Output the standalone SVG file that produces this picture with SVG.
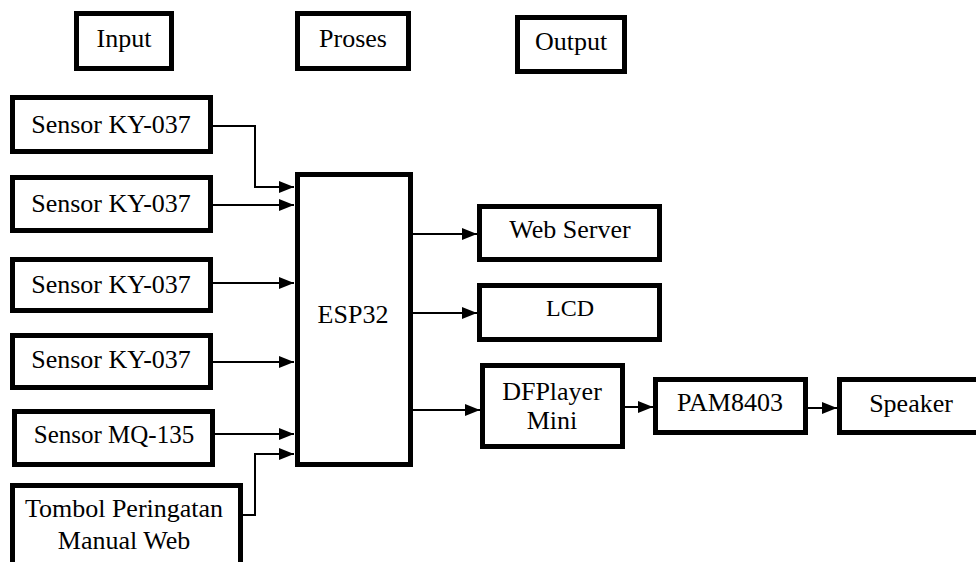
<svg xmlns="http://www.w3.org/2000/svg" width="976" height="562" viewBox="0 0 976 562">
<style>
.box{fill:#fff;stroke:#000;stroke-width:5}
.t{font-size:26px;fill:#000;text-anchor:middle}
.c{fill:none;stroke:#000;stroke-width:2}
</style>
<defs>
<marker id="arr" markerUnits="userSpaceOnUse" markerWidth="15" markerHeight="12" refX="15" refY="6" orient="auto">
<path d="M0,0 L15,6 L0,12 Z" fill="#000"/>
</marker>
</defs>
<rect width="976" height="562" fill="#fff"/>
<g font-family="Liberation Serif, DejaVu Serif, serif">
<g id="input-label"><rect class="box" x="76.5" y="13.5" width="95" height="55"/><text class="t" x="124" y="47">Input</text></g>
<g id="proses-label"><rect class="box" x="297.5" y="13.5" width="111" height="55"/><text class="t" x="353" y="47">Proses</text></g>
<g id="output-label"><rect class="box" x="517.5" y="17.5" width="107" height="54"/><text class="t" x="571" y="50">Output</text></g>
<g id="sensor1"><rect class="box" x="12.5" y="97.5" width="198" height="54"/><text class="t" x="111" y="133">Sensor KY-037</text></g>
<g id="sensor2"><rect class="box" x="12.5" y="177.5" width="198" height="53"/><text class="t" x="111" y="212">Sensor KY-037</text></g>
<g id="sensor3"><rect class="box" x="12.5" y="259.5" width="198" height="51"/><text class="t" x="111" y="293">Sensor KY-037</text></g>
<g id="sensor4"><rect class="box" x="12.5" y="335.5" width="198" height="52"/><text class="t" x="111" y="368">Sensor KY-037</text></g>
<g id="mq135"><rect class="box" x="14.5" y="411.5" width="198" height="53"/><text class="t" x="114" y="443" style="font-size:25px">Sensor MQ-135</text></g>
<g id="tombol"><rect class="box" x="12.5" y="485.5" width="228" height="90"/><text class="t" x="124" y="517">Tombol Peringatan</text><text class="t" x="124" y="549">Manual Web</text></g>
<g id="esp32"><rect class="box" x="297.5" y="174.5" width="113" height="290"/><text class="t" x="353" y="323">ESP32</text></g>
<g id="webserver"><rect class="box" x="479.5" y="206.5" width="180" height="53"/><text class="t" x="570" y="238">Web Server</text></g>
<g id="lcd"><rect class="box" x="479.5" y="285.5" width="180" height="54"/><text class="t" x="570" y="316" style="font-size:24px">LCD</text></g>
<g id="dfplayer"><rect class="box" x="482.5" y="365.5" width="140" height="81"/><text class="t" x="552" y="400">DFPlayer</text><text class="t" x="552" y="429">Mini</text></g>
<g id="pam8403"><rect class="box" x="655.5" y="379.5" width="150" height="53"/><text class="t" x="730" y="411">PAM8403</text></g>
<g id="speaker"><rect class="box" x="839.5" y="379.5" width="150" height="53"/><text class="t" x="911" y="412">Speaker</text></g>
</g>
<g id="connectors">
<path class="c" d="M213,126 H255 V187 H294" marker-end="url(#arr)"/>
<path class="c" d="M213,205 H294" marker-end="url(#arr)"/>
<path class="c" d="M213,283 H294" marker-end="url(#arr)"/>
<path class="c" d="M213,362 H294" marker-end="url(#arr)"/>
<path class="c" d="M215,434 H294" marker-end="url(#arr)"/>
<path class="c" d="M243,515 H255 V454 H294" marker-end="url(#arr)"/>
<path class="c" d="M413,234 H477" marker-end="url(#arr)"/>
<path class="c" d="M413,313 H477" marker-end="url(#arr)"/>
<path class="c" d="M413,410 H480" marker-end="url(#arr)"/>
<path class="c" d="M625,407 H653" marker-end="url(#arr)"/>
<path class="c" d="M808,408 H837" marker-end="url(#arr)"/>
</g>
</svg>
